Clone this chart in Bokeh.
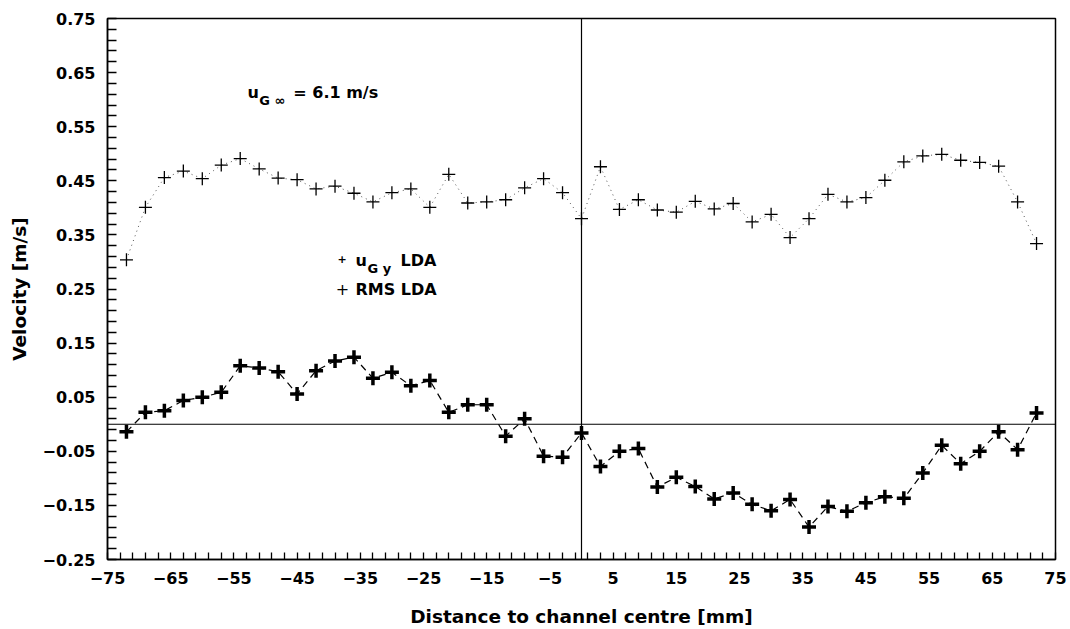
from bokeh.plotting import figure
from bokeh.models import Range1d, FixedTicker, Span, Label, AllLabels
from bokeh.embed import file_html
from bokeh.resources import INLINE

# Measurement positions across the channel [mm]
x_mm = [-72, -69, -66, -63, -60, -57, -54, -51, -48, -45, -42, -39, -36, -33,
        -30, -27, -24, -21, -18, -15, -12, -9, -6, -3, 0,
        3, 6, 9, 12, 15, 18, 21, 24, 27, 30, 33, 36, 39, 42, 45, 48, 51, 54,
        57, 60, 63, 66, 69, 72]

# Transverse gas velocity u_G,y from LDA [m/s]
u_gy = [-0.014, 0.022, 0.025, 0.044, 0.050, 0.059, 0.108, 0.104, 0.097, 0.056,
        0.099, 0.117, 0.124, 0.085, 0.096, 0.071, 0.081, 0.022, 0.036, 0.036,
        -0.022, 0.010, -0.059, -0.061, -0.016,
        -0.078, -0.050, -0.045, -0.116, -0.098, -0.115, -0.138, -0.127, -0.148,
        -0.160, -0.139, -0.190, -0.152, -0.161, -0.145, -0.134, -0.137, -0.090,
        -0.039, -0.073, -0.050, -0.014, -0.047, 0.021]

# RMS of the velocity fluctuations from LDA [m/s]
rms = [0.304, 0.401, 0.456, 0.468, 0.454, 0.479, 0.491, 0.472, 0.455, 0.452,
       0.435, 0.440, 0.427, 0.411, 0.428, 0.435, 0.401, 0.462, 0.409, 0.411,
       0.415, 0.437, 0.454, 0.428, 0.380,
       0.476, 0.397, 0.415, 0.396, 0.392, 0.412, 0.398, 0.408, 0.374, 0.388,
       0.345, 0.380, 0.425, 0.411, 0.419, 0.451, 0.485, 0.496, 0.499, 0.488,
       0.484, 0.477, 0.411, 0.334]

# Axis ticks and labels
x_ticks = list(range(-75, 76, 2))
x_label_values = [-75, -65, -55, -45, -35, -25, -15, -5, 5, 15, 25, 35, 45, 55, 65, 75]
x_label_texts = ["\u221275", "\u221265", "\u221255", "\u221245", "\u221235", "\u221225",
                 "\u221215", "\u22125", "5", "15", "25", "35", "45", "55", "65", "75"]

y_ticks = [round(-0.25 + 0.02 * i, 2) for i in range(51)]
y_label_values = [-0.25, -0.15, -0.05, 0.05, 0.15, 0.25, 0.35, 0.45, 0.55, 0.65, 0.75]
y_label_texts = ["\u22120.25", "\u22120.15", "\u22120.05", "0.05", "0.15", "0.25",
                 "0.35", "0.45", "0.55", "0.65", "0.75"]

FONT = "DejaVu Sans"

p = figure(width=1070, height=629, output_backend="svg", toolbar_location=None,
           x_range=Range1d(-75, 75), y_range=Range1d(-0.25, 0.75),
           min_border_left=107, min_border_right=15, min_border_top=18,
           min_border_bottom=69)

p.xgrid.visible = False
p.ygrid.visible = False
p.outline_line_color = "black"
p.outline_line_width = 1.5
p.background_fill_color = "white"
p.border_fill_color = "white"

# x axis: ticks every 2 mm, labels every 10 mm
xo = {t: "" for t in x_ticks}
xo.update(dict(zip(x_label_values, x_label_texts)))
p.xaxis.ticker = FixedTicker(ticks=x_ticks)
p.xaxis.major_label_overrides = xo
p.xaxis.major_label_policy = AllLabels()
p.xaxis.major_tick_in = 7
p.xaxis.major_tick_out = 0
p.xaxis.minor_tick_line_color = None
p.xaxis.axis_label = "Distance to channel centre [mm]"
p.xaxis.major_label_standoff = 12
p.xaxis.axis_label_standoff = 19

# y axis: ticks every 0.02 m/s, labels every 0.1 m/s
yo = {t: "" for t in y_ticks}
yo.update(dict(zip(y_label_values, y_label_texts)))
p.yaxis.ticker = FixedTicker(ticks=y_ticks)
p.yaxis.major_label_overrides = yo
p.yaxis.major_label_policy = AllLabels()
p.yaxis.major_tick_in = 9
p.yaxis.major_tick_out = 0
p.yaxis.minor_tick_line_color = None
p.yaxis.axis_label = "Velocity [m/s]"
p.yaxis.major_label_standoff = 12
p.yaxis.axis_label_standoff = 10

for ax in (p.xaxis, p.yaxis):
    ax.axis_line_color = "black"
    ax.axis_line_width = 1.5
    ax.major_tick_line_color = "black"
    ax.major_tick_line_width = 1.3
    ax.major_label_text_font = FONT
    ax.major_label_text_font_style = "bold"
    ax.major_label_text_font_size = "16px"
    ax.major_label_text_color = "black"
    ax.axis_label_text_font = FONT
    ax.axis_label_text_font_style = "bold"
    ax.axis_label_text_font_size = "18.5px"
    ax.axis_label_text_color = "black"

# channel centre and zero-velocity reference lines
p.add_layout(Span(location=0, dimension="height", line_color="black", line_width=1.2))
p.add_layout(Span(location=0, dimension="width", line_color="black", line_width=1.2))

# RMS: dotted line with thin crosses
p.line(x_mm, rms, line_color="#555555", line_width=1, line_dash="1 4")
p.scatter(x_mm, rms, marker="cross", size=13, line_color="black", line_width=1.3)

# u_G,y: dashed line with bold crosses
p.line(x_mm, u_gy, line_color="black", line_width=1.2, line_dash="7 5")
p.scatter(x_mm, u_gy, marker="cross", size=14, line_color="black", line_width=3.5)


def put(text, x, y, size, style="bold"):
    p.add_layout(Label(x=x, y=y, text=text, text_font=FONT, text_font_size=size,
                       text_font_style=style, text_color="black",
                       text_baseline="alphabetic", text_align="left"))


# free-stream velocity note
put("u", -52.85, 0.6125, "16px")
put("G \u221e", -51.0, 0.5987, "13px")
put("= 6.1 m/s", -45.6, 0.6125, "16px")

# legend
put("+", -38.6, 0.3054, "11px")
put("u", -35.76, 0.3026, "16px")
put("G y", -33.86, 0.2887, "13px")
put("LDA", -28.64, 0.3026, "16px")
put("+", -38.9, 0.2500, "16px", "normal")
put("RMS LDA", -35.76, 0.2482, "16px")

open("out.html", "w").write(file_html(p, INLINE))
